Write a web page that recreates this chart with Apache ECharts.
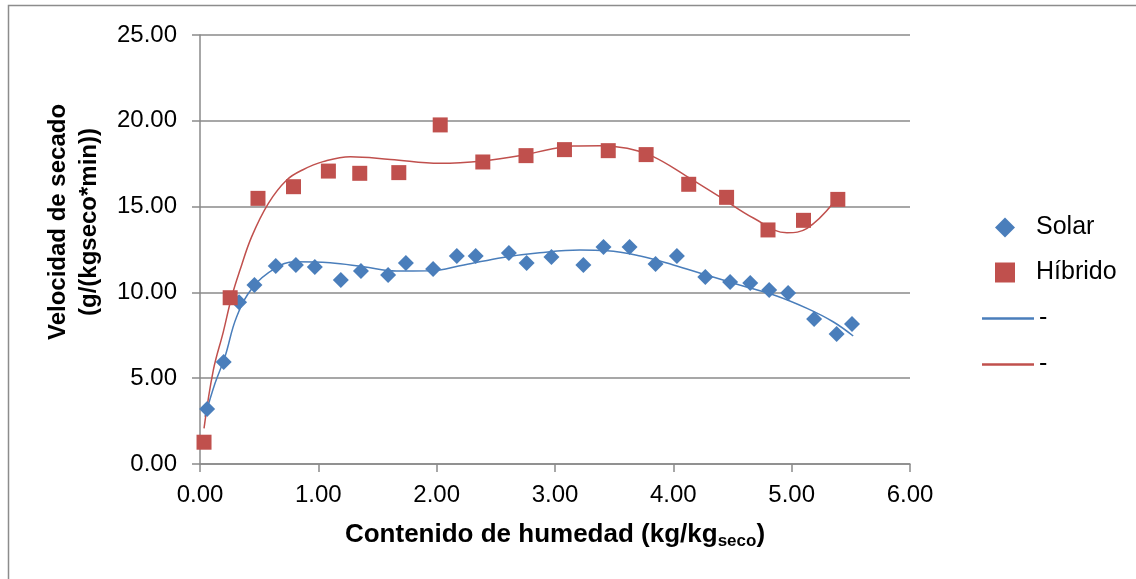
<!DOCTYPE html>
<html>
<head>
<meta charset="utf-8">
<script src="https://cdn.jsdelivr.net/npm/echarts@6/dist/echarts.min.js"></script>
<style>
html,body{margin:0;padding:0;background:#fff;}
#chart{width:1136px;height:579px;}
</style>
</head>
<body>
<div id="chart"></div>
<script>
// ---- data ----
var solarX = [0.06,0.20,0.33,0.46,0.64,0.81,0.97,1.19,1.36,1.59,1.74,1.97,2.17,2.33,2.61,2.76,2.97,3.24,3.41,3.63,3.85,4.03,4.27,4.48,4.65,4.81,4.97,5.19,5.38,5.51];
var solarY = [3.2,5.94,9.43,10.43,11.54,11.6,11.48,10.72,11.25,11.01,11.71,11.36,12.12,12.12,12.3,11.72,12.06,11.6,12.65,12.65,11.65,12.12,10.9,10.6,10.55,10.14,9.97,8.45,7.58,8.16];
var hibX = [0.034,0.255,0.49,0.79,1.085,1.35,1.68,2.03,2.39,2.755,3.08,3.45,3.77,4.13,4.45,4.80,5.10,5.39];
var hibY = [1.27,9.69,15.48,16.16,17.07,16.94,16.98,19.76,17.6,17.97,18.32,18.26,18.03,16.3,15.54,13.64,14.2,15.42];
// trend lines (as drawn in the reference)
var solarTrendX = [0.042,0.127,0.211,0.31,0.45,0.634,0.80,1.10,1.38,1.66,1.94,2.23,2.56,2.87,3.21,3.44,3.72,4.0,4.28,4.56,4.85,5.13,5.35,5.52];
var solarTrendY = [2.76,4.7,6.25,8.58,10.33,11.4,11.79,11.73,11.5,11.25,11.26,11.6,12.04,12.31,12.47,12.43,12.12,11.6,11.01,10.43,9.85,9.07,8.29,7.46];
var hibTrendX = [0.034,0.113,0.197,0.268,0.338,0.437,0.578,0.733,0.87,1.04,1.27,1.61,2.03,2.39,2.73,2.96,3.155,3.38,3.61,3.83,4.11,4.39,4.68,4.96,5.13,5.35];
var hibTrendY = [2.08,5.48,7.7,9.75,11.3,13.25,15.19,16.55,17.15,17.62,17.91,17.75,17.52,17.66,18.0,18.34,18.53,18.55,18.4,17.91,16.78,15.58,14.32,13.48,13.73,15.19];

var seriesNames = ['Solar','Híbrido','-','- '];
var xTitle = 'Contenido de humedad (kg/kg';
var xTitleSub = 'seco';
var yTitle = 'Velocidad de secado\n(g/(kgseco*min))';

function pairs(xs, ys){ return xs.map(function(x,i){ return [x, ys[i]]; }); }

var FONT = '"Liberation Sans", Arial, sans-serif';
var BLUE = '#4A7EBB', RED = '#C0504D', GRID = '#8a8a8a';

var chart = echarts.init(document.getElementById('chart'));
chart.setOption({
  animation: false,
  backgroundColor: '#fff',
  textStyle: { fontFamily: FONT },
  grid: { left: 200, right: 226, top: 35, bottom: 115, containLabel: false },
  xAxis: {
    type: 'value', min: 0, max: 6, interval: 1,
    axisLine: { show: true, onZero: false, lineStyle: { color: GRID, width: 1.5 } },
    axisTick: { show: true, inside: false, length: 8, lineStyle: { color: GRID, width: 1.5 } },
    splitLine: { show: false },
    axisLabel: { color: '#000', fontSize: 24, fontFamily: FONT, margin: 19,
      formatter: function(v){ return v.toFixed(2); } },
    name: '{a|' + xTitle + '}{b|' + xTitleSub + '}{a|)}',
    nameLocation: 'middle', nameGap: 56,
    nameTextStyle: {
      rich: {
        a: { fontSize: 26, fontWeight: 'bold', color: '#000', fontFamily: FONT, lineHeight: 30 },
        b: { fontSize: 17, fontWeight: 'bold', color: '#000', fontFamily: FONT, lineHeight: 19, verticalAlign: 'bottom' }
      }
    }
  },
  yAxis: {
    type: 'value', min: 0, max: 25, interval: 5,
    axisLine: { show: true, lineStyle: { color: GRID, width: 1.5 } },
    axisTick: { show: true, inside: false, length: 8, lineStyle: { color: GRID, width: 1.5 } },
    splitLine: { show: true, lineStyle: { color: GRID, width: 1.5 } },
    axisLabel: { color: '#000', fontSize: 24, fontFamily: FONT, margin: 23,
      formatter: function(v){ return v.toFixed(2); } }
  },
  legend: [
    {
      orient: 'vertical', left: 990, top: 210,
      itemWidth: 20, itemHeight: 20, itemGap: 20,
      data: [seriesNames[0], seriesNames[1]],
      textStyle: { color: '#000', fontSize: 25, fontFamily: FONT, lineHeight: 25, padding: [0, 0, 0, 16] }
    },
    {
      orient: 'vertical', left: 977, top: 301,
      itemWidth: 52, itemHeight: 2.5, itemGap: 21, icon: 'rect',
      data: [seriesNames[2], seriesNames[3]],
      formatter: function(n){ return n.trim(); },
      textStyle: { color: '#000', fontSize: 25, fontFamily: FONT, lineHeight: 25 }
    }
  ],
  graphic: [
    { type: 'rect', silent: true, z: -10,
      shape: { x: 8.5, y: 5.5, width: 1300, height: 800 },
      style: { fill: 'none', stroke: '#8c8c8c', lineWidth: 1.5 } },
    { type: 'text', x: 74, y: 222, rotation: Math.PI / 2,
      style: { text: yTitle, font: 'bold 24px ' + FONT, fill: '#000',
        textAlign: 'center', textVerticalAlign: 'middle', lineHeight: 31 } }
  ],
  series: [
    { name: seriesNames[0], type: 'scatter', symbol: 'diamond', symbolSize: 16,
      itemStyle: { color: BLUE, opacity: 1 }, data: pairs(solarX, solarY), z: 3 },
    { name: seriesNames[1], type: 'scatter', symbol: 'rect', symbolSize: 15,
      itemStyle: { color: RED, opacity: 1 }, data: pairs(hibX, hibY), z: 3 },
    { name: seriesNames[2], type: 'line', smooth: 0.4, symbol: 'none', showSymbol: false,
      lineStyle: { color: BLUE, width: 1.5 }, itemStyle: { color: BLUE },
      data: pairs(solarTrendX, solarTrendY), z: 2 },
    { name: seriesNames[3], type: 'line', smooth: 0.4, symbol: 'none', showSymbol: false,
      lineStyle: { color: RED, width: 1.5 }, itemStyle: { color: RED },
      data: pairs(hibTrendX, hibTrendY), z: 2 }
  ]
});
</script>
</body>
</html>
